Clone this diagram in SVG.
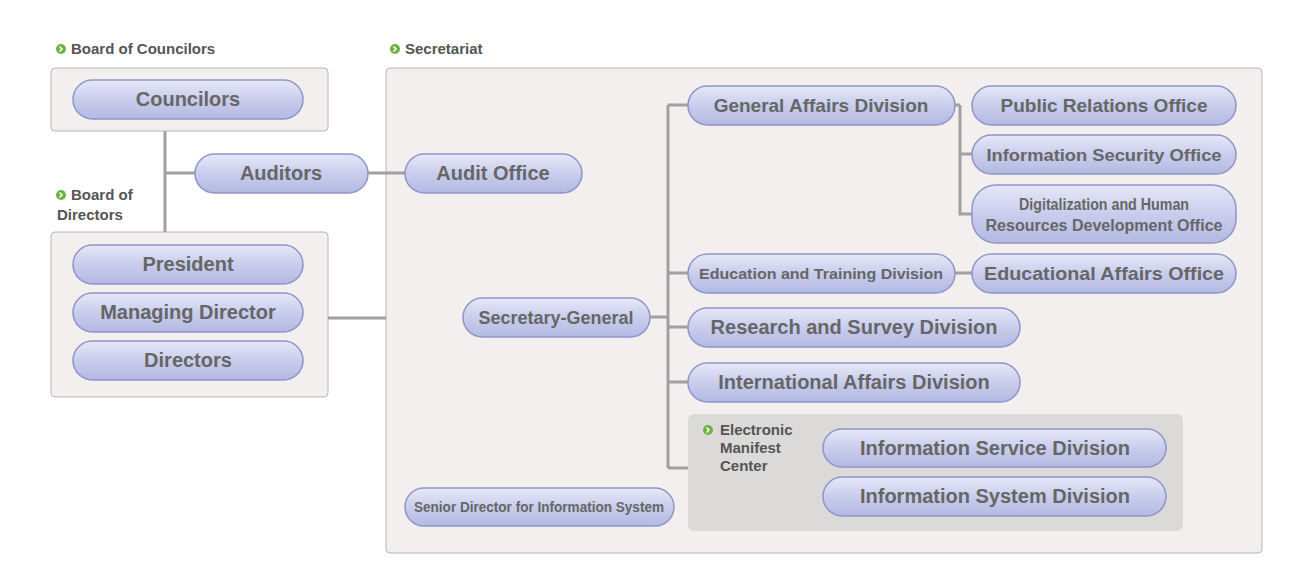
<svg xmlns="http://www.w3.org/2000/svg" width="1303" height="586" viewBox="0 0 1303 586">
<defs>
<linearGradient id="pg" x1="0" y1="0" x2="0" y2="1"><stop offset="0" stop-color="#e6e8f7"/><stop offset="0.5" stop-color="#c9cdec"/><stop offset="1" stop-color="#b3b9e2"/></linearGradient>
<style>
.pill{fill:url(#pg);stroke:#8e95c8;stroke-width:1.5}
.box{fill:#f3efef;stroke:#b8b4b4;stroke-width:1}
.t{font-family:"Liberation Sans",Arial,sans-serif;font-weight:bold;fill:#666;text-anchor:middle}
.lb{font-family:"Liberation Sans",Arial,sans-serif;font-weight:bold;fill:#555;font-size:15px}
.ln{stroke:#a0a0a0;stroke-width:3;fill:none}
.dot{fill:#6db33f}
</style>
</defs>
<rect width="1303" height="586" fill="#fff"/>
<g id="frames">
<rect class="box" x="51" y="68" width="277" height="63" rx="4"/>
<rect class="box" x="51" y="232" width="277" height="165" rx="4"/>
<rect class="box" x="386" y="68" width="876" height="485" rx="4"/>
<rect x="688" y="414" width="495" height="117" rx="6" fill="#dcdad9"/>
</g>
<g id="labels">
<circle class="dot" cx="61" cy="49" r="5"/><path d="M59.5 46.5l2.5 2.5-2.5 2.5" stroke="#fff" stroke-width="1.5" fill="none"/>
<text class="lb" x="71" y="54">Board of Councilors</text>
<circle class="dot" cx="61" cy="195" r="5"/><path d="M59.5 192.5l2.5 2.5-2.5 2.5" stroke="#fff" stroke-width="1.5" fill="none"/>
<text class="lb" x="71" y="200">Board of</text><text class="lb" x="57" y="220">Directors</text>
<circle class="dot" cx="395" cy="49" r="5"/><path d="M393.5 46.5l2.5 2.5-2.5 2.5" stroke="#fff" stroke-width="1.5" fill="none"/>
<text class="lb" x="405" y="54">Secretariat</text>
<circle class="dot" cx="708" cy="430" r="5"/><path d="M706.5 427.5l2.5 2.5-2.5 2.5" stroke="#fff" stroke-width="1.5" fill="none"/>
<text class="lb" x="720" y="435">Electronic</text><text class="lb" x="720" y="453">Manifest</text><text class="lb" x="720" y="471">Center</text>
</g>
<g id="connectors">
<path class="ln" d="M165 131V232M165 173H195M368 173H405M328 318H386M650 317H668M668 105V468M668 105H688M668 273H688M668 327H688M668 382H688M668 468H688M955 105H960M960 105V214H972M960 154H972M955 273H972"/>
</g>
<g id="councilors"><rect class="pill" x="73" y="80" width="230" height="39" rx="19.5"/><text class="t" x="188" y="106" font-size="20">Councilors</text></g>
<g id="auditors"><rect class="pill" x="195" y="154" width="173" height="39" rx="19.5"/><text class="t" x="281" y="180" font-size="20">Auditors</text></g>
<g id="audit-office"><rect class="pill" x="405" y="154" width="177" height="39" rx="19.5"/><text class="t" x="493" y="180" font-size="20">Audit Office</text></g>
<g id="president"><rect class="pill" x="73" y="245" width="230" height="39" rx="19.5"/><text class="t" x="188" y="271" font-size="20">President</text></g>
<g id="managing-director"><rect class="pill" x="73" y="293" width="230" height="39" rx="19.5"/><text class="t" x="188" y="319" font-size="20">Managing Director</text></g>
<g id="directors"><rect class="pill" x="73" y="341" width="230" height="39" rx="19.5"/><text class="t" x="188" y="367" font-size="20">Directors</text></g>
<g id="secretary-general"><rect class="pill" x="463" y="298" width="187" height="39" rx="19.5"/><text class="t" x="556" y="324" font-size="18">Secretary-General</text></g>
<g id="general-affairs"><rect class="pill" x="688" y="86" width="267" height="39" rx="19.5"/><text class="t" x="821" y="112" font-size="19">General Affairs Division</text></g>
<g id="public-relations"><rect class="pill" x="972" y="86" width="264" height="39" rx="19.5"/><text class="t" x="1104" y="112" font-size="19">Public Relations Office</text></g>
<g id="info-security"><rect class="pill" x="972" y="135" width="264" height="39" rx="19.5"/><text class="t" x="1104" y="161" font-size="17" textLength="235" lengthAdjust="spacingAndGlyphs">Information Security Office</text></g>
<g id="digitalization"><rect class="pill" x="972" y="185" width="264" height="58" rx="24"/><text class="t" x="1104" y="210" font-size="16" textLength="170" lengthAdjust="spacingAndGlyphs">Digitalization and Human</text><text class="t" x="1104" y="231" font-size="16" textLength="237" lengthAdjust="spacingAndGlyphs">Resources Development Office</text></g>
<g id="education-training"><rect class="pill" x="688" y="254" width="267" height="39" rx="19.5"/><text class="t" x="821" y="279" font-size="15" textLength="244" lengthAdjust="spacingAndGlyphs">Education and Training Division</text></g>
<g id="educational-affairs"><rect class="pill" x="972" y="254" width="264" height="39" rx="19.5"/><text class="t" x="1104" y="280" font-size="19" textLength="240" lengthAdjust="spacingAndGlyphs">Educational Affairs Office</text></g>
<g id="research-survey"><rect class="pill" x="688" y="308" width="332" height="39" rx="19.5"/><text class="t" x="854" y="334" font-size="20">Research and Survey Division</text></g>
<g id="international-affairs"><rect class="pill" x="688" y="363" width="332" height="39" rx="19.5"/><text class="t" x="854" y="389" font-size="20">International Affairs Division</text></g>
<g id="info-service"><rect class="pill" x="823" y="429" width="343" height="38" rx="19"/><text class="t" x="995" y="455" font-size="20">Information Service Division</text></g>
<g id="info-system"><rect class="pill" x="823" y="477" width="343" height="39" rx="19.5"/><text class="t" x="995" y="503" font-size="20">Information System Division</text></g>
<g id="senior-director"><rect class="pill" x="405" y="488" width="269" height="38" rx="19"/><text class="t" x="539" y="512" font-size="14" textLength="250" lengthAdjust="spacingAndGlyphs">Senior Director for Information System</text></g>
</svg>
